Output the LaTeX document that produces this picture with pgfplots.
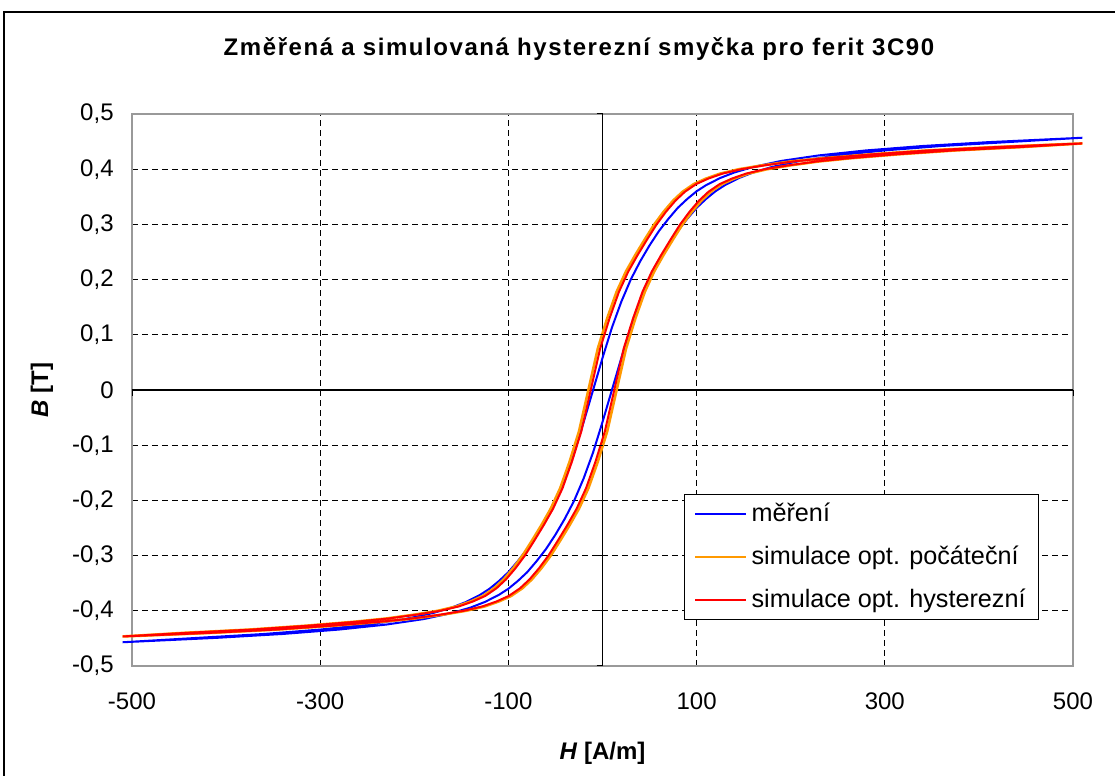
\documentclass[border=0pt]{standalone}
\usepackage{pgfplots}
\pgfplotsset{compat=1.18}
\usepackage{fontspec}
\setmainfont{Liberation Sans}
\newfontfamily\titlefont[LetterSpace=6.5]{Liberation Sans}
\definecolor{cblue}{RGB}{0,0,255}
\definecolor{corange}{RGB}{255,153,0}
\definecolor{cred}{RGB}{255,0,0}
\begin{document}
\fontsize{12pt}{14pt}\selectfont
\begin{tikzpicture}
\path[use as bounding box] (0,0) rectangle (557.5pt,388pt);
\fill[white] (0,0) rectangle (557.5pt,388pt);
\draw[black, line width=0.75pt] (2pt,0) -- (2pt,382pt) -- (557.5pt,382pt);
\begin{axis}[
  at={(66pt,55pt)}, anchor=south west,
  scale only axis, width=470.5pt, height=276pt,
  xmin=-500, xmax=500, ymin=-0.5, ymax=0.5,
  clip=false,
  xtick={-500,-300,-100,100,300,500},
  xticklabels={-500,-300,-100,100,300,500},
  ytick={-0.5,-0.4,-0.3,-0.2,-0.1,0,0.1,0.2,0.3,0.4,0.5},
  yticklabels={{-0,5},{-0,4},{-0,3},{-0,2},{-0,1},0,{0,1},{0,2},{0,3},{0,4},{0,5}},
  extra x ticks={0}, extra x tick labels={},
  extra y ticks={0}, extra y tick labels={},
  extra tick style={grid style={solid, black, line width=0.6pt}},
  grid=major,
  grid style={black, line width=0.5pt, dash pattern=on 3pt off 2pt},
  axis line style={draw=gray!80, line width=0.8pt},
  major tick style={draw=none},
  tick label style={font=\fontsize{12pt}{14pt}\selectfont},
  xticklabel style={yshift=-9pt},
  yticklabel style={xshift=-5pt},
  title={\titlefont\bfseries Změřená a simulovaná hysterezní smyčka pro ferit 3C90},
  title style={at={(axis description cs:0.475,1.096)}, anchor=center, font=\fontsize{12pt}{14pt}\selectfont},
  xlabel={\textbf{\textit{H} [A/m]}},
  xlabel style={at={(axis description cs:0.5,-0.1576)}, anchor=center, font=\fontsize{12pt}{14pt}\selectfont},
  ylabel={\textbf{\textit{B} [T]}},
  ylabel style={at={(axis description cs:-0.0956,0.5)}, anchor=center, rotate=0, font=\fontsize{12pt}{14pt}\selectfont},
  legend style={at={(0.964,0.0833)}, anchor=south east, draw=black, line width=0.5pt,
    font=\fontsize{12.6pt}{14pt}\selectfont, row sep=6.3pt, inner xsep=4.5pt, inner ysep=2.3pt},
  legend cell align=left,
  legend image code/.code={\draw[#1] (0cm,0cm) -- (0.9cm,0cm);},
]
\addplot[cblue, line width=1pt] coordinates {
(510,0.457)(410,0.449)(340,0.442)(280,0.434)(230,0.425)(190,0.415)(160,0.404)(140,0.394)(125,0.384)(110,0.371)(100,0.360)(90,0.346)(80,0.330)(70,0.310)(60,0.288)(50,0.262)(40,0.233)(30,0.200)(20,0.160)(10,0.113)(0,0.058)(-10,0)(-20,-0.058)(-30,-0.113)(-40,-0.160)(-50,-0.200)(-60,-0.233)(-70,-0.262)(-80,-0.288)(-90,-0.310)(-100,-0.330)(-110,-0.346)(-120,-0.360)(-130,-0.371)(-145,-0.384)(-160,-0.394)(-180,-0.404)(-210,-0.415)(-250,-0.425)(-300,-0.434)(-360,-0.442)(-430,-0.449)(-510,-0.457)
(-410,-0.449)(-340,-0.442)(-280,-0.434)(-230,-0.425)(-190,-0.415)(-160,-0.404)(-140,-0.394)(-125,-0.384)(-110,-0.371)(-100,-0.360)(-90,-0.346)(-80,-0.330)(-70,-0.310)(-60,-0.288)(-50,-0.262)(-40,-0.233)(-30,-0.200)(-20,-0.160)(-10,-0.113)(0,-0.058)(10,0)(20,0.058)(30,0.113)(40,0.160)(50,0.200)(60,0.233)(70,0.262)(80,0.288)(90,0.310)(100,0.330)(110,0.346)(120,0.360)(130,0.371)(145,0.384)(160,0.394)(180,0.404)(210,0.415)(250,0.425)(300,0.434)(360,0.442)(430,0.449)(510,0.457)
};
\addlegendentry{měření}
\addplot[corange, line width=1.3pt] coordinates {
(510,0.4467)(415,0.440)(345,0.434)(285,0.427)(235,0.420)(200,0.414)(170,0.407)(145,0.400)(125,0.392)(110,0.383)(97,0.373)(85,0.359)(75,0.343)(65,0.323)(55,0.300)(45,0.273)(35,0.245)(25,0.215)(15,0.178)(5,0.130)(-5,0.075)(-15,0)(-25,-0.075)(-35,-0.130)(-45,-0.178)(-55,-0.215)(-65,-0.245)(-75,-0.273)(-85,-0.300)(-95,-0.323)(-105,-0.343)(-115,-0.359)(-127,-0.373)(-140,-0.383)(-155,-0.392)(-175,-0.400)(-200,-0.407)(-230,-0.414)(-265,-0.420)(-315,-0.427)(-375,-0.434)(-445,-0.440)(-510,-0.4465)
(-415,-0.440)(-345,-0.434)(-285,-0.427)(-235,-0.420)(-200,-0.414)(-170,-0.407)(-145,-0.400)(-125,-0.392)(-110,-0.383)(-97,-0.373)(-85,-0.359)(-75,-0.343)(-65,-0.323)(-55,-0.300)(-45,-0.273)(-35,-0.245)(-25,-0.215)(-15,-0.178)(-5,-0.130)(5,-0.075)(15,0)(25,0.075)(35,0.130)(45,0.178)(55,0.215)(65,0.245)(75,0.273)(85,0.300)(95,0.323)(105,0.343)(115,0.359)(127,0.373)(140,0.383)(155,0.392)(175,0.400)(200,0.407)(230,0.414)(265,0.420)(315,0.427)(375,0.434)(445,0.440)(510,0.4467)
};
\addlegendentry{simulace opt. počáteční}
\addplot[cred, line width=1pt] coordinates {
(510,0.4467)(417.5,0.440)(347.5,0.434)(287.5,0.427)(237.5,0.420)(202.5,0.414)(172.5,0.407)(147.5,0.400)(127.5,0.392)(112.5,0.383)(99.5,0.373)(87.5,0.359)(77.5,0.343)(67.5,0.323)(57.5,0.300)(47.5,0.273)(37.5,0.245)(27.5,0.215)(17.5,0.178)(7.5,0.130)(-2.5,0.075)(-12.5,0)(-22.5,-0.075)(-32.5,-0.130)(-42.5,-0.178)(-52.5,-0.215)(-62.5,-0.245)(-72.5,-0.273)(-82.5,-0.300)(-92.5,-0.323)(-102.5,-0.343)(-112.5,-0.359)(-124.5,-0.373)(-137.5,-0.383)(-152.5,-0.392)(-172.5,-0.400)(-197.5,-0.407)(-227.5,-0.414)(-262.5,-0.420)(-312.5,-0.427)(-372.5,-0.434)(-442.5,-0.440)(-510,-0.4465)
(-417.5,-0.440)(-347.5,-0.434)(-287.5,-0.427)(-237.5,-0.420)(-202.5,-0.414)(-172.5,-0.407)(-147.5,-0.400)(-127.5,-0.392)(-112.5,-0.383)(-99.5,-0.373)(-87.5,-0.359)(-77.5,-0.343)(-67.5,-0.323)(-57.5,-0.300)(-47.5,-0.273)(-37.5,-0.245)(-27.5,-0.215)(-17.5,-0.178)(-7.5,-0.130)(2.5,-0.075)(12.5,0)(22.5,0.075)(32.5,0.130)(42.5,0.178)(52.5,0.215)(62.5,0.245)(72.5,0.273)(82.5,0.300)(92.5,0.323)(102.5,0.343)(112.5,0.359)(124.5,0.373)(137.5,0.383)(152.5,0.392)(172.5,0.400)(197.5,0.407)(227.5,0.414)(262.5,0.420)(312.5,0.427)(372.5,0.434)(442.5,0.440)(510,0.4467)
};
\addlegendentry{simulace opt. hysterezní}
\end{axis}
\begin{axis}[
  at={(66pt,55pt)}, anchor=south west,
  scale only axis, width=470.5pt, height=276pt,
  xmin=-500, xmax=500, ymin=-0.5, ymax=0.5,
  axis lines=middle,
  axis line style={-, draw=none},
  xtick={-500,-300,-100,100,300,500},
  ytick={-0.5,-0.4,-0.3,-0.2,-0.1,0.1,0.2,0.3,0.4,0.5},
  xticklabels={}, yticklabels={},
  tick align=outside, major tick length=3pt,
  tick style={black, line width=0.5pt},
]
\end{axis}
\end{tikzpicture}
\end{document}
